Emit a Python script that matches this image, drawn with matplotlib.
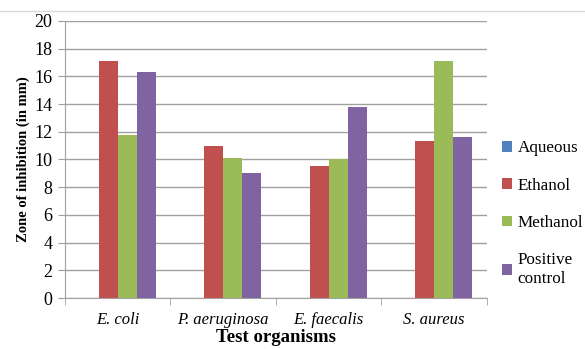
import numpy as np
import matplotlib.pyplot as plt
from matplotlib.lines import Line2D

organisms = ['E. coli', 'P. aeruginosa', 'E. faecalis', 'S. aureus']
aqueous = [0, 0, 0, 0]
ethanol = [17.1, 11.0, 9.5, 11.3]
methanol = [11.8, 10.1, 10.0, 17.1]
positive = [16.3, 9.0, 13.8, 11.6]
series_names = ['Aqueous', 'Ethanol', 'Methanol', 'Positive\ncontrol']
colors = ['#4F81BD', '#C0504D', '#9BBB59', '#8064A2']

serif = 'Liberation Serif'
plt.rcParams['font.family'] = [serif, 'DejaVu Serif']

fig = plt.figure(figsize=(5.85, 3.49), dpi=100)
ax = fig.add_axes([0.111, 0.146, 0.721, 0.794])

x = np.arange(len(organisms))
w = 0.18
data = [aqueous, ethanol, methanol, positive]
for i, (vals, name, c) in enumerate(zip(data, series_names, colors)):
    ax.bar(x + (i - 1.5) * w, vals, w, color=c, label=name, zorder=3)

ax.set_xlim(-0.5, 3.5)
ax.set_ylim(0, 20)
ax.set_yticks(range(0, 21, 2))
ax.set_yticklabels([str(v) for v in range(0, 21, 2)], family=serif, fontsize=13)
ax.set_xticks(x)
ax.set_xticklabels(organisms, family=serif, fontstyle='italic', fontsize=12)
ax.set_xticks(np.arange(-0.5, 4, 1), minor=True)
ax.tick_params(axis='x', which='major', length=0, pad=10)
ax.tick_params(axis='x', which='minor', length=5, color='#a0a0a0')
ax.tick_params(axis='y', length=5, color='#a0a0a0', pad=4)
ax.grid(axis='y', color='#a0a0a0', linewidth=1, zorder=0)
for s in ['top', 'right']:
    ax.spines[s].set_visible(False)
for s in ['left', 'bottom']:
    ax.spines[s].set_color('#a0a0a0')

ax.set_ylabel('Zone of inhibition (in mm)', family=serif, fontsize=10.5,
              fontweight='bold', labelpad=3)
ax.set_xlabel('Test organisms', family=serif, fontsize=13.5,
              fontweight='bold', labelpad=1)

# legend sits right of the plot, lower half
leg = ax.legend(loc='center left', bbox_to_anchor=(1.0, 0.305), frameon=False,
                prop={'family': serif, 'size': 12.3}, handlelength=0.6,
                handleheight=0.6, handletextpad=0.3, labelspacing=1.25,
                borderaxespad=0.5)

fig.add_artist(Line2D([0, 1], [0.968, 0.968], color='#d9d9d9', linewidth=1))

fig.savefig('out.png', dpi=100)
